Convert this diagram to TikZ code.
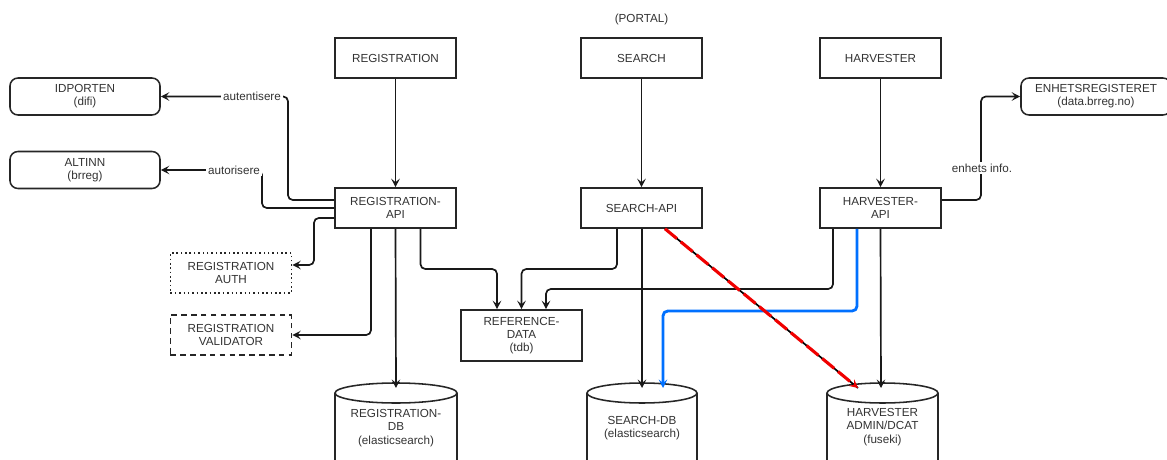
\documentclass[tikz,border=0pt]{standalone}
\usepackage{fontspec}
\setmainfont{Liberation Sans}
\usetikzlibrary{arrows.meta,calc}
\definecolor{inkgray}{RGB}{51,51,51}
\definecolor{flowblue}{RGB}{0,112,255}
\definecolor{flowred}{RGB}{240,0,0}

\tikzset{
    txt/.style={text=inkgray, font=\fontsize{8.3}{9.4}\selectfont, align=center},
    box/.style={txt, draw=black!85, line width=1.1pt, minimum width=3.025cm,
        minimum height=1cm, inner sep=1pt},
    extbox/.style={box, rounded corners=0.2cm, minimum width=3.75cm, minimum height=0.925cm},
    authbox/.style={box, dotted},
    valbox/.style={box, dash pattern=on 4pt off 3pt},
    drum/.style={draw=black!85, line width=1.1pt},
    link/.style={draw=black!90, line width=1.2pt, rounded corners=0.12cm,
        -{Stealth[length=6pt,width=6pt,inset=2.4pt]}},
    lbl/.style={txt, fill=white, inner sep=1.5pt}
}

\begin{document}
\begin{tikzpicture}[x=0.025cm,y=-0.025cm]
    \clip (0,0) rectangle (1167,460);
    \fill[white] (0,0) rectangle (1167,460);

    % portal
    \node[txt] (portal) at (641.5,19) {(PORTAL)};
    \node[box] (registration) at (395.5,58) {REGISTRATION};
    \node[box] (search) at (641.5,58) {SEARCH};
    \node[box] (harvester) at (880.5,58) {HARVESTER};

    % apis
    \node[box] (regapi) at (395.5,208) {REGISTRATION-\\API};
    \node[box] (searchapi) at (641.5,208) {SEARCH-API};
    \node[box] (harvapi) at (880.5,208) {HARVESTER-\\API};

    % external services
    \node[extbox] (idporten) at (85,96.5) {IDPORTEN\\(difi)};
    \node[extbox] (altinn) at (85,170) {ALTINN\\(brreg)};
    \node[extbox] (enhet) at (1096,96.5) {ENHETSREGISTERET\\(data.brreg.no)};

    \node[authbox] (regauth) at (231,273) {REGISTRATION\\AUTH};
    \node[valbox] (regval) at (231,335) {REGISTRATION\\VALIDATOR};
    \node[box, minimum height=1.275cm] (refdata) at (521.5,335.5) {REFERENCE-\\DATA\\(tdb)};

    % databases
    \draw[drum] (396,393) ellipse[x radius=1.525cm, y radius=0.25cm];
    \draw[drum] (335,393) -- (335,480) (457,393) -- (457,480);
    \draw[drum] (642,393) ellipse[x radius=1.375cm, y radius=0.25cm];
    \draw[drum] (587,393) -- (587,480) (697,393) -- (697,480);
    \draw[drum] (882.5,393) ellipse[x radius=1.3875cm, y radius=0.25cm];
    \draw[drum] (827,393) -- (827,480) (938,393) -- (938,480);

    \node[txt] (regdb) at (396,428) {REGISTRATION-\\DB\\(elasticsearch)};
    \node[txt] (searchdb) at (642,428) {SEARCH-DB\\(elasticsearch)};
    \node[txt] (harvdb) at (882.5,427) {HARVESTER\\ADMIN/DCAT\\(fuseki)};

    \coordinate (regdbtop) at (396,388);
    \coordinate (searchdbtop) at (642,388);
    \coordinate (searchdbin) at (663,388);
    \coordinate (harvdbtop) at (881,388);
    \coordinate (harvdbin) at (858,388);

    % top row down
    \draw[link] (registration) -- (regapi);
    \draw[link] (search) -- (searchapi);
    \draw[link] (harvester) -- (harvapi);

    % registration-api
    \draw[link] ($(regapi.west)+(0,-8)$) -| (288,96.5) -- (idporten.east);
    \draw[link] (regapi.west) -| (262,170) -- (altinn.east);
    \draw[link] ($(regapi.west)+(0,10)$) -| (314,265) -- ($(regauth.east)+(0,-8)$);
    \draw[link] ($(regapi.south)+(-24.5,0)$) |- (regval.east);
    \draw[link] (regapi.south) -- (regdbtop);
    \draw[link] ($(regapi.south)+(25,0)$) |- (497,269) -- ($(refdata.north)+(-24.5,0)$);

    % search-api
    \draw[link] ($(searchapi.south)+(-24.5,0)$) |- (521.5,269) -- (refdata.north);
    \draw[link] ($(searchapi.south)+(0.5,0)$) -- (searchdbtop);

    % harvester-api
    \draw[link] ($(harvapi.south)+(-47.5,0)$) |- (546,289) -- ($(refdata.north)+(24.5,0)$);
    \draw[link] (harvapi.south) -- (harvdbtop);
    \draw[link] ($(harvapi.east)+(0,-8)$) -| (981,96.5) -- (enhet.west);
    \draw[link, draw=flowblue, line width=2pt]
        ($(harvapi.south)+(-23.5,0)$) |- (663,311) -- (searchdbin);

    % search-api to harvester db
    \draw[draw=black, line width=1.2pt] ($(searchapi.south)+(23.5,0)$) -- (harvdbin);
    \draw[link, draw=flowred, line width=2.2pt, dash pattern=on 11pt off 3.5pt]
        ($(searchapi.south)+(23.5,0)$) -- (harvdbin);

    % labels
    \node[lbl] (autlbl) at (252,96.5) {autentisere};
    \node[lbl] (orilbl) at (234,170) {autorisere};
    \node[lbl] (enhlbl) at (982,168) {enhets info.};
\end{tikzpicture}
\end{document}
